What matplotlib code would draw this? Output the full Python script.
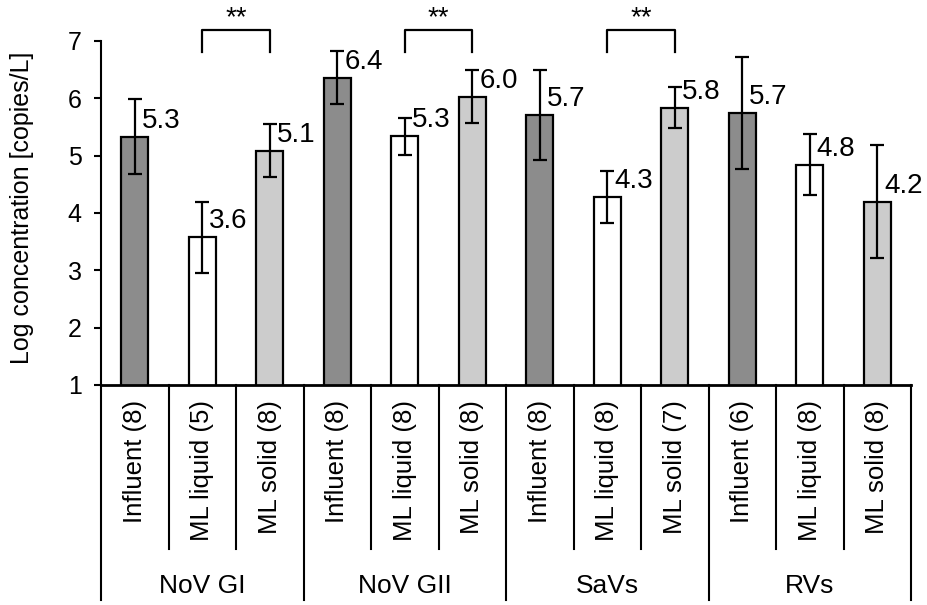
import matplotlib; matplotlib.use("Agg")
import matplotlib.pyplot as plt
import numpy as np

plt.rcParams.update({"font.family":["Liberation Sans","DejaVu Sans"],"font.size":18,
 "axes.linewidth":1.5,"xtick.color":"black","ytick.color":"black"})

# data
groups=["NoV GI","NoV GII","SaVs","RVs"]
samples=["Influent","ML liquid","ML solid"]
n_obs=[8,5,8, 8,8,8, 8,8,7, 6,8,8]
means=[5.33,3.58,5.09, 6.36,5.34,6.03, 5.71,4.28,5.84, 5.74,4.84,4.20]
errs=[0.65,0.62,0.47, 0.46,0.32,0.46, 0.78,0.46,0.36, 0.98,0.53,0.99]
sig_pairs=[(1,2),(4,5),(7,8)]
sig_text="**"

COLS=["#8c8c8c","#ffffff","#cccccc"]
fig=plt.figure(figsize=(9.27,6.05),dpi=100)
ax=fig.add_axes([101/927,1-385/605,810/927,344/605])
x=np.arange(len(means))
ax.bar(x,means,bottom=0,width=0.405,color=[COLS[i%3] for i in x],edgecolor="black",lw=1.6,zorder=2)
ax.errorbar(x,means,yerr=errs,fmt="none",ecolor="black",elinewidth=1.6,capsize=5,capthick=1.6,zorder=3)
for xi,m in zip(x,means):
    ax.annotate("%.1f"%m,xy=(xi,m),xytext=(7,16),textcoords="offset pixels",ha="left",va="center",fontsize=20)
ax.set_xlim(-0.5,len(means)-0.5); ax.set_ylim(1,7)
ax.set_yticks(range(1,8))
ax.tick_params(axis="y",length=5,width=1.5,pad=9,labelsize=18)
ax.set_xticks([])
for sp in ("top","right"): ax.spines[sp].set_visible(False)
ax.spines["bottom"].set_linewidth(2)

# significance brackets
for a,b in sig_pairs:
    ax.plot([a,a,b,b],[6.81,7.19,7.19,6.81],color="black",lw=1.6,clip_on=False)
    ax.text((a+b)/2,7.40,sig_text,ha="center",va="center",fontsize=20)

# two-level category axis
tr=ax.get_xaxis_transform()
for k in range(len(means)+1):
    bottom=-0.625 if k%3==0 else -0.478
    ax.plot([k-0.5,k-0.5],[0,bottom],color="black",lw=1.5,clip_on=False,transform=tr)
for xi,n in zip(x,n_obs):
    ax.text(xi,-0.044,"%s (%d)"%(samples[xi%3],n),rotation=90,ha="center",va="top",fontsize=18.5,transform=tr)
for g,name in enumerate(groups):
    ax.text(3*g+1,-0.583,name,ha="center",va="center",fontsize=19,transform=tr)

fig.text(22/927,1-208/605,"Log concentration [copies/L]",rotation=90,ha="center",va="center",fontsize=18)
fig.savefig("out.png",dpi=100)
